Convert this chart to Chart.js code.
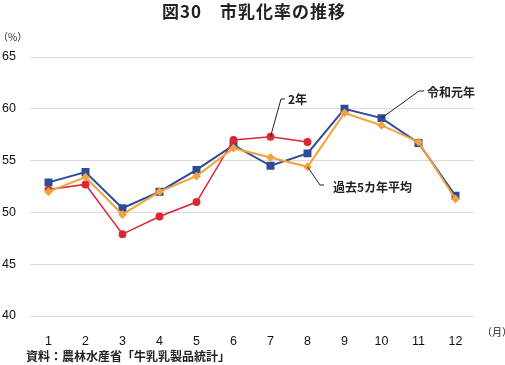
<!DOCTYPE html>
<html>
<head>
<meta charset="utf-8">
<script src="https://cdn.jsdelivr.net/npm/chart.js@4"></script>
<style>
  html, body { margin: 0; padding: 0; background: #fff; }
  #wrap { width: 505px; height: 365px; position: relative; }
</style>
</head>
<body>
<div id="wrap"><canvas id="myChart"></canvas></div>
<script>
const months = ['1', '2', '3', '4', '5', '6', '7', '8', '9', '10', '11', '12'];
const reiwa1 = [52.9, 53.9, 50.4, 52.0, 54.1, 56.5, 54.5, 55.7, 60.0, 59.1, 56.7, 51.6];
const reiwa2 = [52.2, 52.7, 47.9, 49.6, 51.0, 57.0, 57.3, 56.8];
const avg5 = [52.0, 53.4, 49.8, 52.0, 53.5, 56.2, 55.3, 54.4, 59.6, 58.4, 56.8, 51.3];
const yTicks = [40, 45, 50, 55, 60, 65];

const jp = '"Noto Sans CJK JP", "Liberation Sans", sans-serif';
const num = '"Liberation Sans", Arial, sans-serif';

// titles, units, source and the leader-line labels
const extras = {
  id: 'extras',
  afterDraw(chart) {
    const ctx = chart.ctx;
    const xs = chart.scales.x, ys = chart.scales.y;
    ctx.save();
    ctx.fillStyle = '#222';
    ctx.textBaseline = 'middle';

    ctx.font = 'bold 17px ' + jp;
    ctx.textAlign = 'center';
    ctx.letterSpacing = '1px';
    ctx.fillText('図30　市乳化率の推移', 254, 12);
    ctx.letterSpacing = '0px';

    ctx.textAlign = 'left';
    ctx.font = '10px ' + jp;
    ctx.fillText('（%）', -2, 37);
    ctx.fillText('（月）', 482, 332);
    ctx.font = 'bold 12px ' + jp;
    ctx.fillText('資料：農林水産省「牛乳乳製品統計」', 26, 356);

    // leader lines
    ctx.strokeStyle = '#222';
    ctx.lineWidth = 1;
    const lead = (i, val, pts, text, tx, ty) => {
      let x0 = xs.getPixelForValue(i), y0 = ys.getPixelForValue(val);
      ctx.beginPath();
      ctx.moveTo(x0, y0);
      pts.forEach(p => ctx.lineTo(p[0], p[1]));
      ctx.stroke();
      ctx.font = 'bold 12px ' + jp;
      ctx.fillText(text, tx, ty);
    };
    lead(6, reiwa2[6], [[281, 99], [285, 99]], '2年', 288, 99);
    lead(9, reiwa1[9], [[419, 91], [424, 91]], '令和元年', 427, 92);
    lead(7, avg5[7], [[320, 185], [324, 185]], '過去5カ年平均', 333, 187);
    ctx.restore();
  }
};

new Chart(document.getElementById('myChart'), {
  type: 'line',
  data: {
    labels: months,
    datasets: [
      {
        label: '過去5カ年平均',
        data: avg5,
        borderColor: '#f2a23c',
        backgroundColor: '#f2a23c',
        borderWidth: 2,
        pointStyle: 'rectRot',
        pointRadius: 3,
        order: 0
      },
      {
        label: '2年',
        data: reiwa2,
        borderColor: '#dc2836',
        backgroundColor: '#dc2836',
        borderWidth: 1.5,
        pointStyle: 'circle',
        pointRadius: 3.2,
        order: 1
      },
      {
        label: '令和元年',
        data: reiwa1,
        borderColor: '#2d4b9b',
        backgroundColor: '#2d4b9b',
        borderWidth: 2,
        pointStyle: 'rect',
        pointRadius: 4.2,
        order: 2
      }
    ]
  },
  options: {
    responsive: true,
    maintainAspectRatio: false,
    animation: false,
    layout: { padding: { top: 57, right: 31, bottom: 0, left: 2 } },
    plugins: {
      legend: { display: false },
      tooltip: { enabled: false }
    },
    scales: {
      x: {
        offset: true,
        grid: { display: false },
        border: { display: false },
        ticks: {
          color: '#111',
          font: { family: num, size: 12.5 },
          padding: 10,
          maxRotation: 0
        },
        afterFit(scale) { scale.height = 49; }
      },
      y: {
        min: 40,
        max: 65,
        afterBuildTicks(scale) { scale.ticks = yTicks.map(v => ({ value: v })); },
        grid: { color: '#dcdcdc', drawTicks: false, lineWidth: 1 },
        border: { display: false },
        ticks: {
          color: '#111',
          crossAlign: 'far',
          padding: 4,
          font: { family: num, size: 12.5 }
        },
        afterFit(scale) { scale.width = 28; }
      }
    }
  },
  plugins: [extras]
});
</script>
</body>
</html>
